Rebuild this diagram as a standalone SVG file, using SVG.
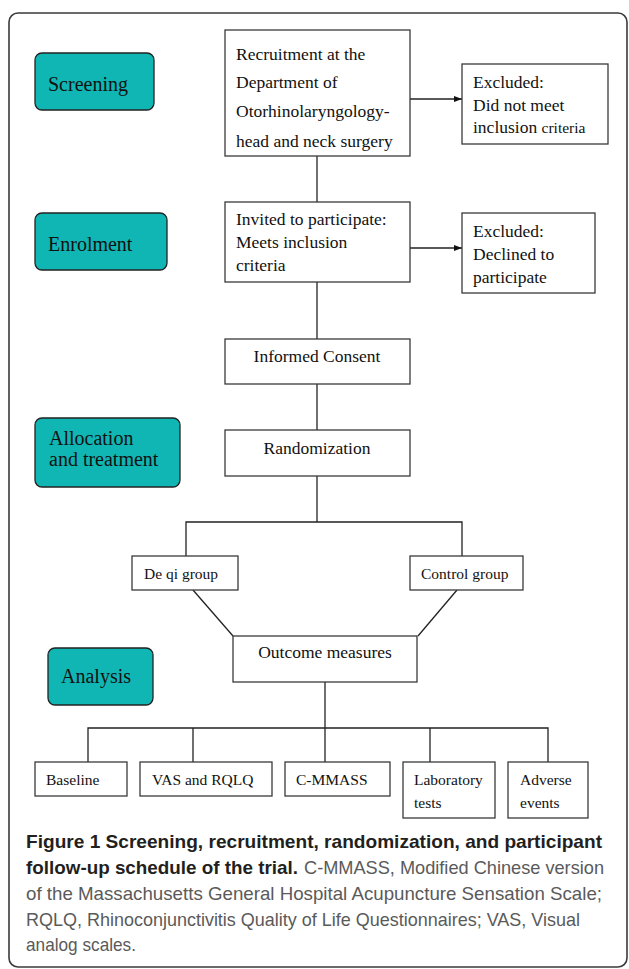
<svg xmlns="http://www.w3.org/2000/svg" width="629" height="969" viewBox="0 0 629 969">
<style>
.frame{fill:#fff;stroke:#3a3a3a;stroke-width:1.6}
.phase{fill:#10b6b4;stroke:#222;stroke-width:1.3}
.box{fill:#fff;stroke:#3a3a3a;stroke-width:1.3}
.t20{font-family:"Liberation Serif","Times New Roman",serif;font-size:20px;fill:#111}
.t17{font-family:"Liberation Serif","Times New Roman",serif;font-size:17.5px;fill:#111}
.t15{font-family:"Liberation Serif","Times New Roman",serif;font-size:15.5px;fill:#111}
.mid{text-anchor:middle}
.conn{stroke:#222;stroke-width:1.3;fill:none}
.capb{font-family:"Liberation Sans",Arial,sans-serif;font-size:19px;font-weight:bold;fill:#231f20}
.capr{font-family:"Liberation Sans",Arial,sans-serif;font-size:19px;fill:#5a5a5a}
</style>
<defs>
<marker id="arr" markerWidth="9" markerHeight="8" refX="8.5" refY="4" orient="auto" markerUnits="userSpaceOnUse">
<path d="M0,0.8 L8.5,4 L0,7.2 Z" fill="#111"/>
</marker>
</defs>
<rect class="frame" x="9" y="13" width="618" height="954" rx="9"/>

<g id="connectors">
<line class="conn" x1="317" y1="156" x2="317" y2="202"/>
<line class="conn" x1="410" y1="99" x2="462" y2="99" marker-end="url(#arr)"/>
<line class="conn" x1="410" y1="248" x2="462" y2="248" marker-end="url(#arr)"/>
<line class="conn" x1="317" y1="282" x2="317" y2="339"/>
<line class="conn" x1="317" y1="384" x2="317" y2="430"/>
<line class="conn" x1="317" y1="476" x2="317" y2="522"/>
<polyline class="conn" points="186,556 186,522 462,522 462,556"/>
<line class="conn" x1="193" y1="590" x2="233" y2="636"/>
<line class="conn" x1="457" y1="590" x2="418" y2="636"/>
<line class="conn" x1="325" y1="682" x2="325" y2="762"/>
<polyline class="conn" points="88,762 88,728 548,728 548,762"/>
<line class="conn" x1="193" y1="728" x2="193" y2="762"/>
<line class="conn" x1="430" y1="728" x2="430" y2="762"/>
</g>

<g id="screening"><rect class="phase" x="35" y="53" width="119" height="57" rx="7"/><text class="t20" x="48" y="91">Screening</text></g>
<g id="enrolment"><rect class="phase" x="35" y="213" width="132" height="57" rx="7"/><text class="t20" x="48" y="251">Enrolment</text></g>
<g id="allocation"><rect class="phase" x="35" y="418" width="145" height="69" rx="7"/><text class="t20" x="49" y="445">Allocation</text><text class="t20" x="49" y="466">and treatment</text></g>
<g id="analysis"><rect class="phase" x="48" y="648" width="105" height="57" rx="7"/><text class="t20" x="61" y="683">Analysis</text></g>

<g id="recruitment"><rect class="box" x="225" y="30" width="185" height="126"/>
<text class="t17" x="236" y="60">Recruitment at the</text>
<text class="t17" x="236" y="88">Department of</text>
<text class="t17" x="236" y="117">Otorhinolaryngology-</text>
<text class="t17" x="236" y="147">head and neck surgery</text></g>
<g id="excluded1"><rect class="box" x="462" y="64" width="146" height="80"/>
<text class="t17" x="473" y="88">Excluded:</text>
<text class="t17" x="473" y="111">Did not meet</text>
<text class="t17" x="473" y="133">inclusion <tspan font-size="15.5px">criteria</tspan></text></g>
<g id="invited"><rect class="box" x="225" y="202" width="185" height="80"/>
<text class="t17" x="236" y="225">Invited to participate:</text>
<text class="t17" x="236" y="248">Meets inclusion</text>
<text class="t17" x="236" y="271">criteria</text></g>
<g id="excluded2"><rect class="box" x="462" y="213" width="133" height="80"/>
<text class="t17" x="473" y="237">Excluded:</text>
<text class="t17" x="473" y="260">Declined to</text>
<text class="t17" x="473" y="283">participate</text></g>
<g id="consent"><rect class="box" x="225" y="339" width="185" height="45"/><text class="t17 mid" x="317" y="362">Informed Consent</text></g>
<g id="randomization"><rect class="box" x="225" y="430" width="185" height="46"/><text class="t17 mid" x="317" y="454">Randomization</text></g>
<g id="deqi"><rect class="box" x="132" y="556" width="106" height="34"/><text class="t15" x="144" y="579">De qi group</text></g>
<g id="control"><rect class="box" x="410" y="556" width="113" height="34"/><text class="t15" x="421" y="579">Control group</text></g>
<g id="outcome"><rect class="box" x="233" y="636" width="184" height="46"/><text class="t17 mid" x="325" y="658">Outcome measures</text></g>
<g id="baseline"><rect class="box" x="35" y="762" width="92" height="34"/><text class="t15" x="46" y="785">Baseline</text></g>
<g id="vas"><rect class="box" x="140" y="762" width="132" height="34"/><text class="t15" x="152" y="785">VAS and RQLQ</text></g>
<g id="cmmass"><rect class="box" x="285" y="762" width="105" height="34"/><text class="t15" x="296" y="785">C-MMASS</text></g>
<g id="laboratory"><rect class="box" x="403" y="762" width="92" height="56"/><text class="t15" x="414" y="785">Laboratory</text><text class="t15" x="414" y="808">tests</text></g>
<g id="adverse"><rect class="box" x="508" y="762" width="80" height="56"/><text class="t15" x="520" y="785">Adverse</text><text class="t15" x="520" y="808">events</text></g>

<g id="caption">
<text class="capb" x="26" y="848" textLength="576" lengthAdjust="spacingAndGlyphs">Figure 1 Screening, recruitment, randomization, and participant</text>
<text class="capb" x="26" y="874" textLength="272" lengthAdjust="spacingAndGlyphs">follow-up schedule of the trial.</text>
<text class="capr" x="304" y="874" textLength="300" lengthAdjust="spacingAndGlyphs">C-MMASS, Modified Chinese version</text>
<text class="capr" x="26" y="900" textLength="576" lengthAdjust="spacingAndGlyphs">of the Massachusetts General Hospital Acupuncture Sensation Scale;</text>
<text class="capr" x="26" y="926" textLength="554" lengthAdjust="spacingAndGlyphs">RQLQ, Rhinoconjunctivitis Quality of Life Questionnaires; VAS, Visual</text>
<text class="capr" x="26" y="951" textLength="110" lengthAdjust="spacingAndGlyphs">analog scales.</text>
</g>
</svg>
